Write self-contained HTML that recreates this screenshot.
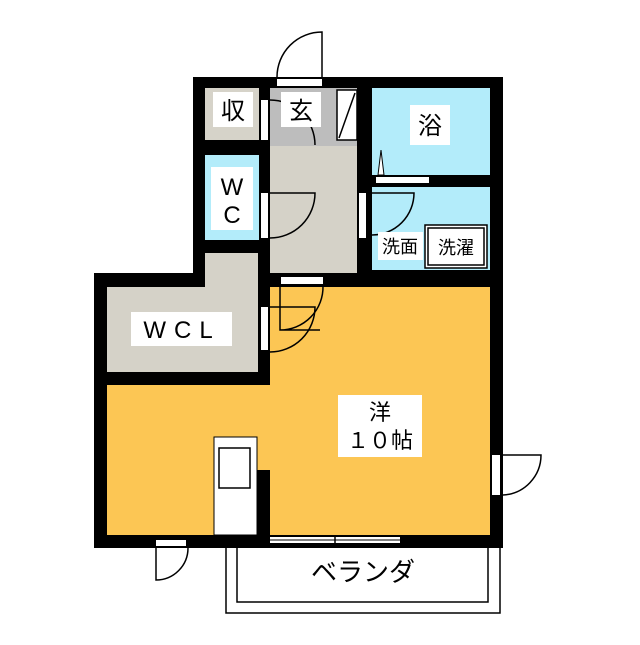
<!DOCTYPE html>
<html><head><meta charset="utf-8"><style>
body{margin:0;background:#fff}
text{font-family:"Liberation Sans","Noto Sans CJK JP",sans-serif;fill:#000}
</style></head><body>
<svg width="640" height="640" viewBox="0 0 640 640" xmlns="http://www.w3.org/2000/svg">
<!-- walls base -->
<rect x="193" y="77" width="310" height="210" fill="#000"/>
<rect x="94" y="273" width="176" height="112" fill="#000"/>
<rect x="193" y="250" width="77" height="40" fill="#000"/>
<rect x="94" y="273" width="409" height="275" fill="#000"/>
<!-- rooms -->
<rect x="205" y="88" width="54" height="52" fill="#d6d3c9"/>
<rect x="205" y="155" width="54" height="85" fill="#b3ecfa"/>
<rect x="270" y="88" width="87" height="185" fill="#d5d2c8"/>
<rect x="270" y="88" width="87" height="58" fill="#bdbdbd"/>
<rect x="372" y="88" width="118" height="87" fill="#b3ecfa"/>
<rect x="372" y="187" width="118" height="83" fill="#b3ecfa"/>
<rect x="107" y="287" width="151" height="85" fill="#d5d2c8"/>
<rect x="205" y="253" width="53" height="40" fill="#d5d2c8"/>
<rect x="270" y="287" width="220" height="248" fill="#fcc654"/>
<rect x="107" y="385" width="165" height="150" fill="#fcc654"/>
<!-- shoe box -->
<rect x="337" y="90" width="20" height="50" fill="#fff" stroke="#000" stroke-width="1.5"/>
<line x1="339" y1="138" x2="355" y2="93" stroke="#000" stroke-width="1.5"/>
<!-- entrance door -->
<rect x="277" y="79" width="45" height="7" fill="#fff"/>
<path d="M322 77 V32 A45 45 0 0 0 277 77" fill="none" stroke="#000" stroke-width="1.5"/>
<!-- 収 door -->
<rect x="261" y="100" width="7" height="40" fill="#fff"/>
<path d="M270 100 A45 45 0 0 1 315 145" fill="none" stroke="#000" stroke-width="1.5"/>
<!-- WC door -->
<rect x="261" y="193" width="7" height="45" fill="#fff"/>
<path d="M270 193 H315 A45 45 0 0 1 270 238" fill="none" stroke="#000" stroke-width="1.5"/>
<!-- wash door -->
<rect x="359" y="193" width="7" height="45" fill="#fff"/>
<path d="M372 193 H414 A42 42 0 0 1 372 235" fill="none" stroke="#000" stroke-width="1.5"/>
<!-- bath door -->
<rect x="376" y="177" width="53" height="6" fill="#fff"/>
<path d="M378 175 L381 150 L384 175 Z" fill="#fff" stroke="#000" stroke-width="1"/>
<!-- washer -->
<rect x="425" y="225" width="62" height="43" fill="#fff" stroke="#000" stroke-width="1.5"/>
<rect x="428" y="228" width="56" height="37" fill="none" stroke="#000" stroke-width="1.5"/>
<!-- room doors -->
<rect x="281" y="277" width="42" height="7" fill="#fff"/>
<path d="M280 286 V330 H320 M323 286 A43 43 0 0 1 280 330" fill="none" stroke="#000" stroke-width="1.5"/>
<rect x="261" y="307" width="7" height="43" fill="#fff"/>
<path d="M270 307 H315 A45 45 0 0 1 270 352" fill="none" stroke="#000" stroke-width="1.5"/>
<!-- kitchen -->
<rect x="214" y="437" width="43" height="98" fill="#fff" stroke="#000" stroke-width="1"/>
<rect x="219" y="448" width="31" height="40" fill="#fff" stroke="#000" stroke-width="1.5"/>
<rect x="257" y="470" width="13" height="65" fill="#000"/>
<!-- windows -->
<rect x="270" y="537" width="130" height="6" fill="#fff"/>
<line x1="270" y1="540" x2="400" y2="540" stroke="#000" stroke-width="1"/>
<line x1="335" y1="535" x2="335" y2="547" stroke="#000" stroke-width="1.5"/>
<!-- right door -->
<rect x="492" y="455" width="8" height="40" fill="#fff"/>
<path d="M503 455 H541 A40 40 0 0 1 503 495" fill="none" stroke="#000" stroke-width="1.5"/>
<!-- bottom-left door -->
<rect x="156" y="540" width="30" height="6" fill="#fff"/>
<path d="M156 548 V580 A32 32 0 0 0 188 548" fill="none" stroke="#000" stroke-width="1.5"/>
<!-- balcony -->
<path d="M226 548 V613 H500 V548 M237 548 V602 H488 V548" fill="none" stroke="#000" stroke-width="1.5"/>
<!-- labels -->
<rect x="213" y="92" width="40" height="35" fill="#fff"/>
<text x="233" y="119" font-size="24" text-anchor="middle">収</text>
<rect x="281" y="92" width="40" height="35" fill="#fff"/>
<text x="301" y="119" font-size="24" text-anchor="middle">玄</text>
<rect x="410" y="105" width="40" height="40" fill="#fff"/>
<text x="430" y="134" font-size="24" text-anchor="middle">浴</text>
<rect x="211" y="167" width="42" height="63" fill="#fff"/>
<text x="232" y="195" font-size="24" text-anchor="middle">W</text>
<text x="232" y="223" font-size="24" text-anchor="middle">C</text>
<rect x="378" y="232" width="45" height="28" fill="#fff"/>
<text x="400" y="253" font-size="18" text-anchor="middle">洗面</text>
<text x="456" y="254" font-size="18" text-anchor="middle">洗濯</text>
<rect x="131" y="312" width="101" height="34" fill="#fff"/>
<text x="182" y="338" font-size="24" text-anchor="middle" letter-spacing="8">WCL</text>
<rect x="338" y="395" width="84" height="62" fill="#fff"/>
<text x="380" y="420" font-size="22" text-anchor="middle">洋</text>
<text x="380" y="448" font-size="22" text-anchor="middle">１０帖</text>
<text x="363" y="581" font-size="26" text-anchor="middle">ベランダ</text>
</svg>
</body></html>
